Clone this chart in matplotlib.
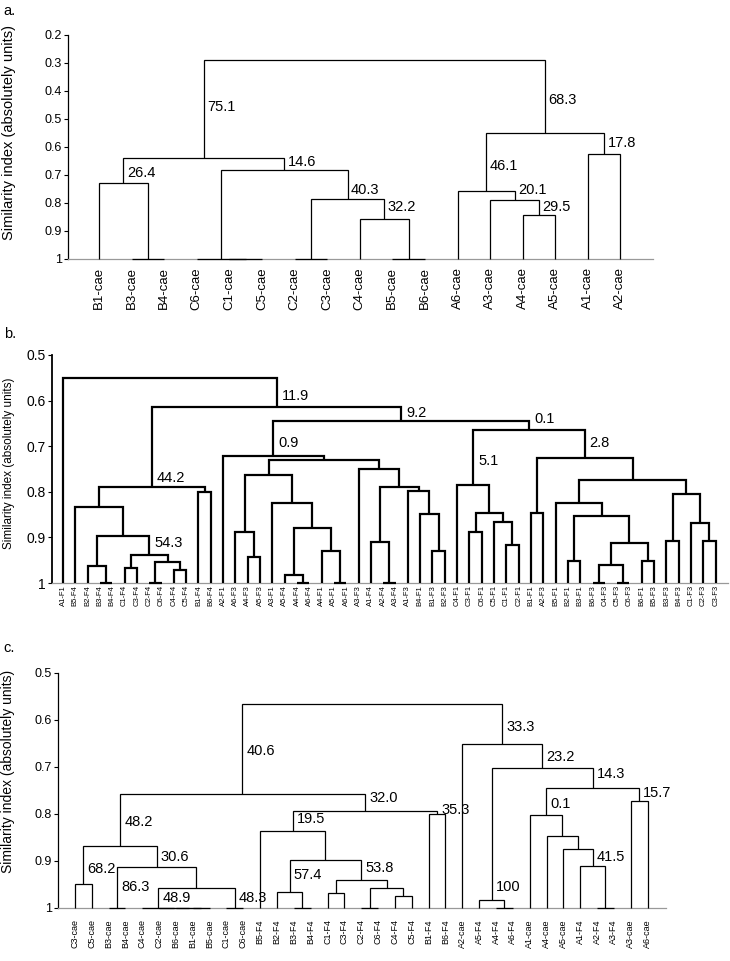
import matplotlib.pyplot as plt

plt.rcParams['font.family'] = ['Liberation Sans', 'DejaVu Sans']

# ---------------- panel a ----------------
leaves_a = ["B1-cae", "B3-cae", "B4-cae", "C6-cae", "C1-cae", "C5-cae", "C2-cae",
            "C3-cae", "C4-cae", "B5-cae", "B6-cae", "A6-cae", "A3-cae", "A4-cae",
            "A5-cae", "A1-cae", "A2-cae"]
# (node, left child, right child, similarity)
merges_a = [
    ("B34", "B3-cae", "B4-cae", 1.0),
    ("B134", "B1-cae", "B34", 0.728),
    ("C15", "C1-cae", "C5-cae", 1.0),
    ("C156", "C6-cae", "C15", 1.0),
    ("C23", "C2-cae", "C3-cae", 1.0),
    ("B56", "B5-cae", "B6-cae", 1.0),
    ("C4B56", "C4-cae", "B56", 0.857),
    ("C234B56", "C23", "C4B56", 0.786),
    ("Cbig", "C156", "C234B56", 0.682),
    ("BC", "B134", "Cbig", 0.64),
    ("A45", "A4-cae", "A5-cae", 0.843),
    ("A345", "A3-cae", "A45", 0.789),
    ("A3456", "A6-cae", "A345", 0.757),
    ("A12", "A1-cae", "A2-cae", 0.625),
    ("A", "A3456", "A12", 0.55),
    ("root", "BC", "A", 0.289),
]
# (node, bootstrap text, label height)
boot_a = [
    ("BC", "75.1", 0.457), ("A", "68.3", 0.432), ("B134", "26.4", 0.693),
    ("Cbig", "14.6", 0.654), ("C234B56", "40.3", 0.754), ("C4B56", "32.2", 0.815),
    ("A3456", "46.1", 0.667), ("A345", "20.1", 0.754), ("A45", "29.5", 0.815),
    ("A12", "17.8", 0.585),
]

# ---------------- panel b ----------------
leaves_b = ["A1-F1", "B5-F4", "B2-F4", "B3-F4", "B4-F4", "C1-F4", "C3-F4", "C2-F4",
            "C6-F4", "C4-F4", "C5-F4", "B1-F4", "B6-F4", "A2-F1", "A6-F3", "A4-F3",
            "A5-F3", "A3-F1", "A5-F4", "A4-F4", "A6-F4", "A4-F1", "A5-F1", "A6-F1",
            "A3-F3", "A1-F4", "A2-F4", "A3-F4", "A1-F3", "B4-F1", "B1-F3", "B2-F3",
            "C4-F1", "C3-F1", "C6-F1", "C5-F1", "C1-F1", "C2-F1", "B1-F1", "A2-F3",
            "B5-F1", "B2-F1", "B3-F1", "B6-F3", "C4-F3", "C5-F3", "C6-F3", "B6-F1",
            "B5-F3", "B3-F3", "B4-F3", "C1-F3", "C2-F3", "C3-F3"]
merges_b = [
    ("b34", "B3-F4", "B4-F4", 1.0),
    ("b234", "B2-F4", "b34", 0.963),
    ("c13", "C1-F4", "C3-F4", 0.967),
    ("c26", "C2-F4", "C6-F4", 1.0),
    ("c45", "C4-F4", "C5-F4", 0.971),
    ("c2645", "c26", "c45", 0.954),
    ("c_all", "c13", "c2645", 0.938),
    ("bc", "b234", "c_all", 0.897),
    ("b5bc", "B5-F4", "bc", 0.833),
    ("b16", "B1-F4", "B6-F4", 0.80),
    ("f4", "b5bc", "b16", 0.79),
    ("a45f3", "A4-F3", "A5-F3", 0.943),
    ("a456f3", "A6-F3", "a45f3", 0.888),
    ("a46f4", "A4-F4", "A6-F4", 1.0),
    ("a456f4", "A5-F4", "a46f4", 0.982),
    ("a56f1", "A5-F1", "A6-F1", 1.0),
    ("a456f1", "A4-F1", "a56f1", 0.93),
    ("a4f4f1", "a456f4", "a456f1", 0.88),
    ("a3f1", "A3-F1", "a4f4f1", 0.825),
    ("aF3F1", "a456f3", "a3f1", 0.763),
    ("a23f4", "A2-F4", "A3-F4", 1.0),
    ("a123f4", "A1-F4", "a23f4", 0.91),
    ("b12f3", "B1-F3", "B2-F3", 0.93),
    ("b4f1", "B4-F1", "b12f3", 0.849),
    ("a1f3", "A1-F3", "b4f1", 0.798),
    ("af4b", "a123f4", "a1f3", 0.789),
    ("a3f3", "A3-F3", "af4b", 0.75),
    ("amid", "aF3F1", "a3f3", 0.730),
    ("L", "A2-F1", "amid", 0.722),
    ("c12f1", "C1-F1", "C2-F1", 0.917),
    ("c512f1", "C5-F1", "c12f1", 0.866),
    ("c36f1", "C3-F1", "C6-F1", 0.888),
    ("c3612f1", "c36f1", "c512f1", 0.846),
    ("cf1", "C4-F1", "c3612f1", 0.785),
    ("ba2", "B1-F1", "A2-F3", 0.846),
    ("b23f1", "B2-F1", "B3-F1", 0.952),
    ("bc4f3", "B6-F3", "C4-F3", 1.0),
    ("c56f3", "C5-F3", "C6-F3", 1.0),
    ("bc456f3", "bc4f3", "c56f3", 0.961),
    ("b6b5", "B6-F1", "B5-F3", 0.952),
    ("q1", "bc456f3", "b6b5", 0.912),
    ("q2", "b23f1", "q1", 0.853),
    ("q3", "B5-F1", "q2", 0.825),
    ("b34f3", "B3-F3", "B4-F3", 0.908),
    ("c23f3", "C2-F3", "C3-F3", 0.908),
    ("c123f3", "C1-F3", "c23f3", 0.868),
    ("q4", "b34f3", "c123f3", 0.805),
    ("q5", "q3", "q4", 0.773),
    ("q6", "ba2", "q5", 0.726),
    ("R", "cf1", "q6", 0.664),
    ("Z", "L", "R", 0.645),
    ("X", "f4", "Z", 0.614),
    ("root", "A1-F1", "X", 0.55),
]
boot_b = [
    ("X", "11.9", 0.59), ("Z", "9.2", 0.628), ("R", "0.1", 0.641),
    ("L", "0.9", 0.693), ("f4", "44.2", 0.77), ("c_all", "54.3", 0.913),
    ("cf1", "5.1", 0.732), ("q6", "2.8", 0.693),
]

# ---------------- panel c ----------------
leaves_c = ["C3-cae", "C5-cae", "B3-cae", "B4-cae", "C4-cae", "C2-cae", "B6-cae",
            "B1-cae", "B5-cae", "C1-cae", "C6-cae", "B5-F4", "B2-F4", "B3-F4",
            "B4-F4", "C1-F4", "C3-F4", "C2-F4", "C6-F4", "C4-F4", "C5-F4", "B1-F4",
            "B6-F4", "A2-cae", "A5-F4", "A4-F4", "A6-F4", "A1-cae", "A4-cae",
            "A5-cae", "A1-F4", "A2-F4", "A3-F4", "A3-cae", "A6-cae"]
merges_c = [
    ("c35", "C3-cae", "C5-cae", 0.949),
    ("b34", "B3-cae", "B4-cae", 1.0),
    ("b15", "B1-cae", "B5-cae", 1.0),
    ("b615", "B6-cae", "b15", 1.0),
    ("c2b", "C2-cae", "b615", 1.0),
    ("c4b", "C4-cae", "c2b", 1.0),
    ("c16", "C1-cae", "C6-cae", 1.0),
    ("cb1", "c4b", "c16", 0.958),
    ("cb2", "b34", "cb1", 0.913),
    ("cae", "c35", "cb2", 0.868),
    ("b34f4", "B3-F4", "B4-F4", 1.0),
    ("b234f4", "B2-F4", "b34f4", 0.966),
    ("c13f4", "C1-F4", "C3-F4", 0.968),
    ("c26f4", "C2-F4", "C6-F4", 1.0),
    ("c45f4", "C4-F4", "C5-F4", 0.974),
    ("c2645f4", "c26f4", "c45f4", 0.957),
    ("cf4", "c13f4", "c2645f4", 0.94),
    ("bcf4", "b234f4", "cf4", 0.897),
    ("b5bcf4", "B5-F4", "bcf4", 0.836),
    ("b16f4", "B1-F4", "B6-F4", 0.80),
    ("f4", "b5bcf4", "b16f4", 0.793),
    ("bc", "cae", "f4", 0.757),
    ("a46f4", "A4-F4", "A6-F4", 1.0),
    ("a456f4", "A5-F4", "a46f4", 0.983),
    ("a23f4", "A2-F4", "A3-F4", 1.0),
    ("a123f4", "A1-F4", "a23f4", 0.911),
    ("a5a", "A5-cae", "a123f4", 0.875),
    ("a4a", "A4-cae", "a5a", 0.847),
    ("a1a", "A1-cae", "a4a", 0.802),
    ("a36", "A3-cae", "A6-cae", 0.772),
    ("ab", "a1a", "a36", 0.745),
    ("ac", "a456f4", "ab", 0.702),
    ("A", "A2-cae", "ac", 0.652),
    ("root", "bc", "A", 0.566),
]
boot_c = [
    ("c35", "68.2", 0.917), ("b34", "86.3", 0.955), ("c4b", "48.9", 0.979),
    ("c16", "48.3", 0.979), ("cb2", "30.6", 0.891), ("cae", "48.2", 0.817),
    ("bc", "40.6", 0.666), ("f4", "32.0", 0.766), ("b16f4", "35.3", 0.791),
    ("b5bcf4", "19.5", 0.81), ("b234f4", "57.4", 0.93), ("cf4", "53.8", 0.915),
    ("A", "33.3", 0.615), ("ac", "23.2", 0.678), ("a456f4", "100", 0.955),
    ("ab", "14.3", 0.714), ("a36", "15.7", 0.755), ("a1a", "0.1", 0.779),
    ("a123f4", "41.5", 0.891),
]

ylab = "Similarity index (absolutely units)"


def draw_tree(ax, leaves, merges, boots, lw, fs, dx):
    pos = {name: i for i, name in enumerate(leaves)}
    hgt = {name: 1.0 for name in leaves}
    for name, left, right, h in merges:
        pos[name] = (pos[left] + pos[right]) / 2
        hgt[name] = h
        xl, xr = pos[left], pos[right]
        ax.plot([xl, xl, xr, xr], [hgt[left], h, h, hgt[right]], color='black',
                lw=lw, clip_on=False, zorder=3, solid_joinstyle='miter',
                solid_capstyle='butt')
    for name, txt, y in boots:
        ax.annotate(txt, (pos[name], y), xytext=(dx, 0), textcoords='offset points',
                    ha='left', va='center', fontsize=fs)


def style(ax, leaves, top, xlim, tick_fs, leaf_fs, leaf_pad, spine_lw):
    ax.set_xlim(xlim)
    ax.set_ylim(1, top)
    ticks = [round(top + 0.1 * i, 1) for i in range(int(round((1 - top) * 10)) + 1)]
    ax.set_yticks(ticks)
    ax.set_yticklabels(['1' if t == 1 else f'{t:.1f}' for t in ticks], fontsize=tick_fs)
    ax.set_xticks(range(len(leaves)))
    ax.set_xticklabels(leaves, rotation=90, fontsize=leaf_fs, va='top', ha='center')
    ax.tick_params(axis='x', length=0, pad=leaf_pad)
    ax.tick_params(axis='y', length=3, width=0.8, pad=1.5)
    for s in ['top', 'right']:
        ax.spines[s].set_visible(False)
    ax.spines['left'].set_linewidth(spine_lw)
    ax.spines['bottom'].set_color('#999999')
    ax.spines['bottom'].set_linewidth(0.9)


fig = plt.figure(figsize=(7.3, 9.61), dpi=100)

ax_a = fig.add_axes([0.0932, 0.7305, 0.8014, 0.2331])
draw_tree(ax_a, leaves_a, merges_a, boot_a, 0.9, 10.5, 2.5)
style(ax_a, leaves_a, 0.2, (-0.95, 17.0), 9, 9.5, 6, 0.9)
ax_a.set_ylabel(ylab, fontsize=10.5)
ax_a.yaxis.set_label_coords(-0.089, 0.5625)

ax_b = fig.add_axes([0.0712, 0.3933, 0.926, 0.2373])
draw_tree(ax_b, leaves_b, merges_b, boot_b, 1.6, 10.5, 3.5)
style(ax_b, leaves_b, 0.5, (-0.9, 54.0), 10, 5.5, 1.5, 1.3)
ax_b.set_ylabel(ylab, fontsize=8.5)
ax_b.yaxis.set_label_coords(-0.055, 0.526)

ax_c = fig.add_axes([0.0795, 0.0552, 0.833, 0.2445])
draw_tree(ax_c, leaves_c, merges_c, boot_c, 0.9, 10.5, 3)
style(ax_c, leaves_c, 0.5, (-1.0, 35.1), 9, 6.5, 8, 0.9)
ax_c.set_ylabel(ylab, fontsize=10)
ax_c.yaxis.set_label_coords(-0.07, 0.579)

fig.text(0.004, 1 - 4 / 961, "a.", fontsize=10.5, va='top')
fig.text(0.006, 1 - 327 / 961, "b.", fontsize=10.5, va='top')
fig.text(0.004, 1 - 641 / 961, "c.", fontsize=10.5, va='top')

fig.savefig("out.png", dpi=100)
